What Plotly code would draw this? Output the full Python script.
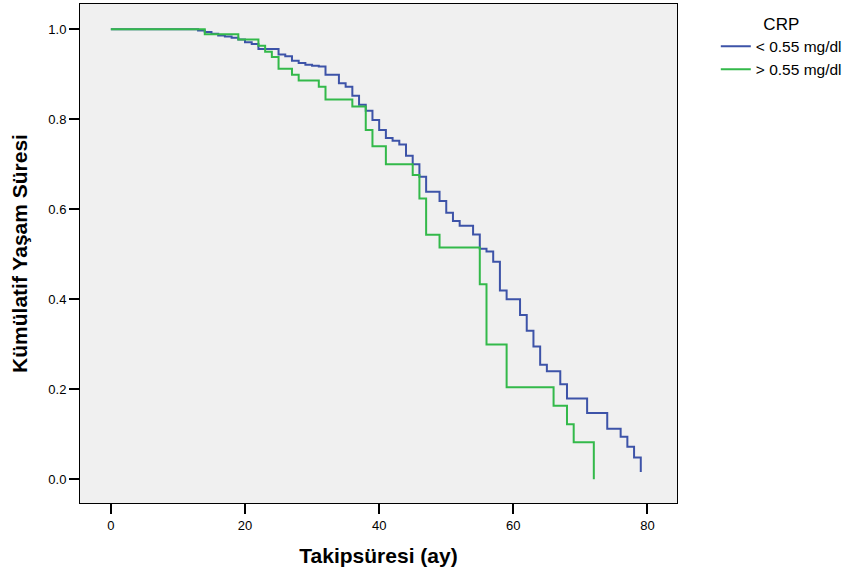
import plotly.graph_objects as go

# Kaplan-Meier step data (month, cumulative survival)
low_months = [0, 13, 14, 15, 16, 17, 18, 19, 20, 21, 22, 25, 26, 27, 28, 29, 30, 31, 32, 34, 35,
              36, 37, 38, 39, 40, 41, 42, 43, 44, 45, 46, 47, 49, 50, 51, 52, 54, 55, 56, 57,
              58, 59, 61, 62, 63, 64, 65, 67, 68, 71, 74, 76, 77, 78, 79]
low_surv = [1.0, 0.997, 0.994, 0.990, 0.986, 0.984, 0.981, 0.977, 0.971, 0.967, 0.956, 0.944,
            0.940, 0.930, 0.925, 0.921, 0.919, 0.917, 0.899, 0.880, 0.872, 0.852, 0.832, 0.819,
            0.798, 0.776, 0.758, 0.752, 0.744, 0.719, 0.700, 0.672, 0.639, 0.618, 0.592, 0.574,
            0.563, 0.544, 0.512, 0.506, 0.483, 0.419, 0.400, 0.365, 0.330, 0.295, 0.254, 0.240,
            0.211, 0.179, 0.147, 0.112, 0.094, 0.072, 0.048, 0.016]

high_months = [0, 14, 19, 22, 23, 24, 25, 27, 28, 31, 32, 36, 38, 39, 41, 45, 46, 47, 49, 55,
               56, 59, 66, 68, 69, 72]
high_surv = [1.0, 0.989, 0.977, 0.963, 0.950, 0.938, 0.912, 0.899, 0.886, 0.872, 0.844, 0.828,
             0.776, 0.740, 0.700, 0.676, 0.624, 0.543, 0.515, 0.433, 0.299, 0.204, 0.163, 0.122,
             0.082, 0.0]

series_names = ["< 0.55 mg/dl", "> 0.55 mg/dl"]
x_ticks = [0, 20, 40, 60, 80]
y_ticks = [0.0, 0.2, 0.4, 0.6, 0.8, 1.0]

FONT = "Arial, Liberation Sans, sans-serif"

fig = go.Figure()
fig.add_trace(go.Scatter(x=low_months, y=low_surv, mode="lines", line_shape="hv",
                         name=series_names[0], line=dict(color="#3d53a8", width=2)))
fig.add_trace(go.Scatter(x=high_months, y=high_surv, mode="lines", line_shape="hv",
                         name=series_names[1], line=dict(color="#33b94a", width=2)))

fig.update_layout(
    width=850, height=578,
    margin=dict(l=80, r=173, t=4, b=75, autoexpand=False),
    paper_bgcolor="white",
    plot_bgcolor="#f0f0f0",
    font=dict(family=FONT, color="black", size=13),
    showlegend=True,
    legend=dict(
        x=1.065, y=0.993, xanchor="left", yanchor="top",
        title=dict(text="CRP", side="top center", font=dict(size=17, family=FONT)),
        font=dict(size=15.5, family=FONT),
        bgcolor="rgba(0,0,0,0)",
        tracegroupgap=0,
        itemwidth=30,
    ),
    xaxis=dict(
        range=[-4.6, 84.4], tickvals=x_ticks, ticktext=[str(v) for v in x_ticks],
        showgrid=False, zeroline=False, showline=True, linecolor="black", linewidth=1,
        mirror=True, ticks="outside", ticklen=10, tickcolor="black", tickwidth=2,
        tickfont=dict(size=13, family=FONT),
        title=dict(text="<b>Takipsüresi (ay)</b>", font=dict(size=21, family=FONT), standoff=16),
    ),
    yaxis=dict(
        range=[-0.053, 1.056], tickvals=y_ticks, tickformat=".1f",
        showgrid=False, zeroline=False, showline=True, linecolor="black", linewidth=1,
        mirror=True, ticks="outside", ticklen=10, tickcolor="black", tickwidth=2,
        tickfont=dict(size=13, family=FONT),
        title=dict(text="<b>Kümülatif Yaşam Süresi</b>", font=dict(size=21, family=FONT), standoff=14),
    ),
)

fig.write_html("out.html", config={"displayModeBar": False},
               post_script="document.body.style.margin='0px';")
